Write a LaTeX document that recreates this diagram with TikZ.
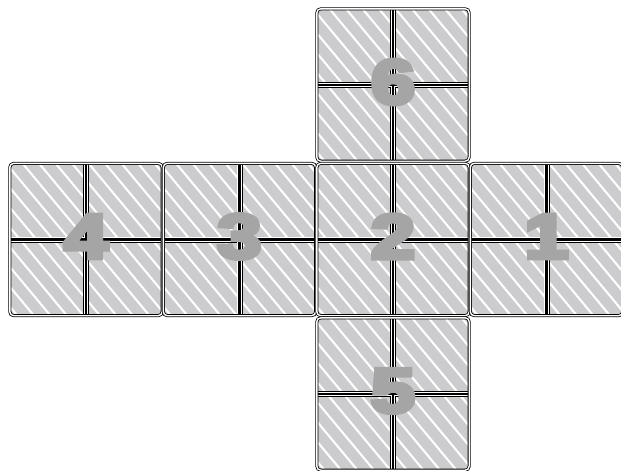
\documentclass[tikz,border=0pt]{standalone}
\usepackage{fontspec}
\newfontfamily\digitfont{Liberation Sans Bold}[FakeBold=7]
\usetikzlibrary{calc}
\definecolor{cellgray}{RGB}{204,204,206}
\definecolor{digitgray}{RGB}{165,165,165}
\tikzset{
  facebox/.style={rectangle, minimum size=152pt, inner sep=0pt},
  stripe/.style={white, line width=2.1pt},
  seamouter/.style={black, line width=6.0pt},
  seamwhite/.style={white, line width=4.4pt},
  seaminner/.style={black, line width=2.2pt},
  faceborder/.style={draw=black, line width=0.8pt, double=white, double distance=1.4pt, rounded corners=4pt},
  digit/.style={text=digitgray, inner sep=0pt, xscale=1.25, transform shape, font=\digitfont\fontsize{63}{63}\selectfont}
}
\newcommand\cubeface[4]{%
  \node[facebox] (#1) at (#2,#3) {};
  \begin{scope}
    \clip[rounded corners=4pt] (#1.north west) rectangle (#1.south east);
    \fill[cellgray] (#1.north west) rectangle (#1.south east);
    \foreach \k in {-11,...,11}
      \draw[stripe] ($(#1.center)+(16.5*\k-80,-96)$) -- ++(160,192);
    \foreach \st in {seamouter,seamwhite,seaminner} {
      \draw[\st] (#1.north) -- (#1.south);
      \draw[\st] (#1.west) -- (#1.east);
    }
  \end{scope}
  \draw[faceborder] (#1.north west) rectangle (#1.south east);
  \node[digit] (#1d) at ($(#1.center)+(0,-3)$) {#4};
}
\begin{document}
\begin{tikzpicture}[x=1pt,y=-1pt]
  \useasboundingbox (0,0) rectangle (621,471);
  \cubeface{f6}{393}{85}{6}
  \cubeface{f4}{86}{239.5}{4}
  \cubeface{f3}{239.5}{239.5}{3}
  \cubeface{f2}{393}{239.5}{2}
  \cubeface{f1}{546.5}{239.5}{1}
  \cubeface{f5}{393}{394}{5}
\end{tikzpicture}
\end{document}
